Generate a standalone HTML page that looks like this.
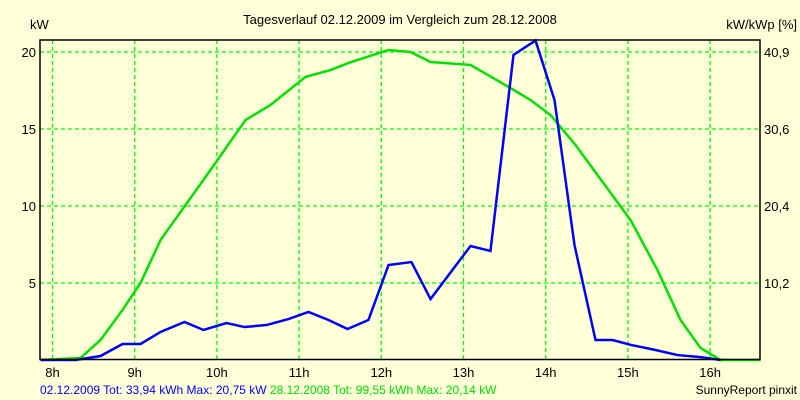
<!DOCTYPE html>
<html><head><meta charset="utf-8"><style>
body{margin:0;background:#FFFFD8;}
svg{display:block;font-family:"Liberation Sans",sans-serif;}
</style></head><body>
<svg id="chart" width="800" height="400" viewBox="0 0 800 400">
<rect x="0" y="0" width="800" height="400" fill="#FFFFD8"/>
<text x="400" y="24" font-size="13" text-anchor="middle" fill="#000">Tagesverlauf 02.12.2009 im Vergleich zum 28.12.2008</text>
<text x="30" y="29" font-size="13" fill="#000">kW</text>
<text x="797" y="29" font-size="13" text-anchor="end" fill="#000">kW/kWp [%]</text>
<g id="grid"></g>
<g id="ticks"></g>
<g id="series"></g>
<rect x="40" y="40" width="720" height="319.5" fill="none" stroke="#000" stroke-width="1.5"/>
<text x="40" y="394" font-size="12"><tspan fill="#0000FF">02.12.2009 Tot: 33,94 kWh Max: 20,75 kW </tspan><tspan fill="#00DD00">28.12.2008 Tot: 99,55 kWh Max: 20,14 kW</tspan></text>
<text x="797" y="394" font-size="12" text-anchor="end" fill="#000">SunnyReport pinxit</text>
</svg>
<script>
const xTicks = [8,9,10,11,12,13,14,15,16];
const yTicks = [5,10,15,20];
const yTicksRight = ["10,2","20,4","30,6","40,9"];
const blueHours = [7.854,8.28,8.584,8.852,9.071,9.314,9.606,9.837,10.117,10.336,10.603,10.871,11.114,11.358,11.589,11.844,12.088,12.367,12.599,13.085,13.328,13.608,13.876,14.107,14.35,14.606,14.813,15.044,15.336,15.603,15.883,16.127];
const blueValues = [0,0,0.26,1.04,1.04,1.82,2.47,1.95,2.4,2.14,2.27,2.66,3.12,2.6,2.01,2.6,6.17,6.36,3.96,7.4,7.08,19.81,20.75,16.88,7.47,1.3,1.3,0.97,0.65,0.32,0.19,0];
const greenHours = [7.854,8.34,8.584,8.852,9.071,9.314,9.618,9.922,10.348,10.652,11.078,11.382,11.601,12.088,12.355,12.599,13.085,13.572,13.815,14.058,14.363,14.63,15.032,15.36,15.64,15.883,16.127,16.613];
const greenValues = [0,0.13,1.3,3.25,5.0,7.79,10.06,12.34,15.58,16.56,18.38,18.83,19.29,20.13,20.0,19.35,19.16,17.66,16.88,15.91,13.96,12.01,9.09,5.84,2.6,0.78,0,0];
const NS='http://www.w3.org/2000/svg';
const xs=h=>52.5+(h-8)*82.2;
const ys=v=>360-v*15.4;
function mk(tag,attrs,parent){const e=document.createElementNS(NS,tag);for(const k in attrs)e.setAttribute(k,attrs[k]);document.getElementById(parent).appendChild(e);return e;}
xTicks.forEach(h=>{
  const l=mk('line',{x1:xs(h),x2:xs(h),y1:40,y2:359,stroke:'#00FF00','stroke-width':1.3,'stroke-dasharray':'4,3'},'grid');
  
  
  const t=mk('text',{x:xs(h),y:377,'font-size':13,'text-anchor':'middle'},'ticks');
  t.textContent=h+'h';
  
  
});
yTicks.forEach((v,i)=>{
  const l=mk('line',{x1:40,x2:760,y1:ys(v),y2:ys(v),stroke:'#00FF00','stroke-width':1.3,'stroke-dasharray':'4,3'},'grid');
  
  
  const t=mk('text',{x:36,y:ys(v)+5,'font-size':13,'text-anchor':'end'},'ticks');
  t.textContent=v;
  
  
  const r=mk('text',{x:764,y:ys(v)+5,'font-size':13},'ticks');
  r.textContent=yTicksRight[i];
  
  
});
const gp=mk('polyline',{points:greenHours.map((h,i)=>xs(h)+','+ys(greenValues[i])).join(' '),fill:'none',stroke:'#00E000','stroke-width':2.5},'series');


const bp=mk('polyline',{points:blueHours.map((h,i)=>xs(h)+','+ys(blueValues[i])).join(' '),fill:'none',stroke:'#0000FF','stroke-width':2.5},'series');


</script>
</body></html>
